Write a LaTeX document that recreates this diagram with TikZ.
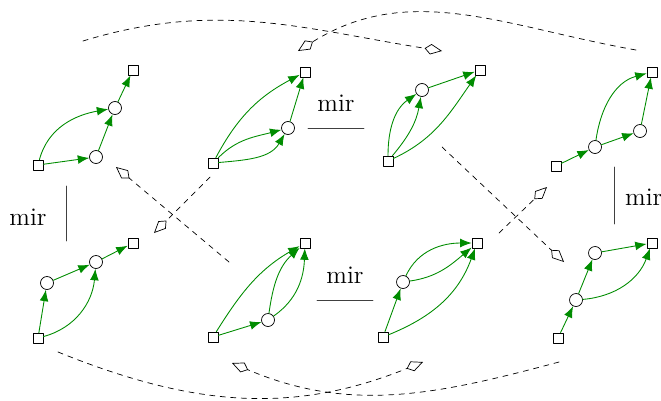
\documentclass[tikz,border=0pt]{standalone}
\usetikzlibrary{arrows.meta}

\begin{document}
\begin{tikzpicture}[x=0.02cm, y=0.02cm,
	>={Latex[length=6.5pt, width=5pt]}, line cap=round, line join=round,
	port/.style={draw, fill=white, rectangle, minimum size=5.7pt, inner sep=0pt},
	hole/.style={draw, fill=white, circle, minimum size=7.4pt, inner sep=0pt},
	wire/.style={->, green!55!black, line width=0.5pt},
	move/.style={dashed, -{Kite[open, length=10pt, width=6pt, inset=3.5pt]}},
	rule/.style={black!75, line width=0.5pt},
	lbl/.style={font=\Large, inner sep=1pt}]
	
	\useasboundingbox (0,0) rectangle (661,400);
	
	% top row
	\node [port] (g1s) at (38,235) {};
	\node [hole] (g1a) at (96,243) {};
	\node [hole] (g1b) at (115,292) {};
	\node [port] (g1t) at (133,330) {};
	\draw [wire] (g1s) -- (g1a);
	\draw [wire] (g1s) to[out=75, in=190] (g1b);
	\draw [wire] (g1a) -- (g1b);
	\draw [wire] (g1b) -- (g1t);
	
	\node [port] (g2s) at (213,237) {};
	\node [hole] (g2a) at (288,272) {};
	\node [port] (g2t) at (305,328) {};
	\draw [wire] (g2s) to[out=45, in=195] (g2a);
	\draw [wire] (g2s) to[out=5, in=240] (g2a);
	\draw [wire] (g2s) to[out=62, in=208] (g2t);
	\draw [wire] (g2a) -- (g2t);
	
	\node [port] (g3s) at (388,239) {};
	\node [hole] (g3a) at (422,310) {};
	\node [port] (g3t) at (480,330) {};
	\draw [wire] (g3s) to[out=90, in=215] (g3a);
	\draw [wire] (g3s) to[out=50, in=260] (g3a);
	\draw [wire] (g3s) to[out=25, in=235] (g3t);
	\draw [wire] (g3a) -- (g3t);
	
	\node [port] (g4s) at (556,234) {};
	\node [hole] (g4a) at (595,253) {};
	\node [hole] (g4b) at (640,269) {};
	\node [port] (g4t) at (652,328) {};
	\draw [wire] (g4s) -- (g4a);
	\draw [wire] (g4a) -- (g4b);
	\draw [wire] (g4b) -- (g4t);
	\draw [wire] (g4a) to[out=82, in=195] (g4t);
	
	% bottom row
	\node [port] (g5s) at (38,62) {};
	\node [hole] (g5a) at (47,117) {};
	\node [hole] (g5b) at (96,138) {};
	\node [port] (g5t) at (133,157) {};
	\draw [wire] (g5s) -- (g5a);
	\draw [wire] (g5a) -- (g5b);
	\draw [wire] (g5b) -- (g5t);
	\draw [wire] (g5s) to[out=15, in=265] (g5b);
	
	\node [port] (g6s) at (213,63) {};
	\node [hole] (g6a) at (268,80) {};
	\node [port] (g6t) at (305,157) {};
	\draw [wire] (g6s) -- (g6a);
	\draw [wire] (g6s) to[out=58, in=210] (g6t);
	\draw [wire] (g6a) to[out=82, in=222] (g6t);
	\draw [wire] (g6a) to[out=35, in=268] (g6t);
	
	\node [port] (g7s) at (383,63) {};
	\node [hole] (g7a) at (403,118) {};
	\node [port] (g7t) at (477,157) {};
	\draw [wire] (g7s) -- (g7a);
	\draw [wire] (g7a) to[out=65, in=180] (g7t);
	\draw [wire] (g7a) to[out=8, in=220] (g7t);
	\draw [wire] (g7s) to[out=22, in=250] (g7t);
	
	\node [port] (g8s) at (558,62) {};
	\node [hole] (g8a) at (576,100) {};
	\node [hole] (g8b) at (595,147) {};
	\node [port] (g8t) at (652,157) {};
	\draw [wire] (g8s) -- (g8a);
	\draw [wire] (g8a) -- (g8b);
	\draw [wire] (g8b) -- (g8t);
	\draw [wire] (g8a) to[out=5, in=250] (g8t);
	
	% mirror rules
	\coordinate (m1a) at (66,214);
	\coordinate (m1b) at (66,159);
	\draw [rule] (m1a) -- (m1b);
	\node [lbl] (m1) at (28,183) {mir};
	
	\coordinate (m2a) at (308,272);
	\coordinate (m2b) at (364,272);
	\draw [rule] (m2a) -- (m2b);
	\node [lbl] (m2) at (336,297) {mir};
	
	\coordinate (m3a) at (317,100);
	\coordinate (m3b) at (373,100);
	\draw [rule] (m3a) -- (m3b);
	\node [lbl] (m3) at (345,125) {mir};
	
	\coordinate (m4a) at (614,233);
	\coordinate (m4b) at (614,176);
	\draw [rule] (m4a) -- (m4b);
	\node [lbl, anchor=west] (m4) at (623,203) {mir};
	
	% dashed moves
	\coordinate (d1a) at (229,138);
	\coordinate (d1b) at (116,233);
	\coordinate (d2a) at (210,223);
	\coordinate (d2b) at (154,167);
	\coordinate (d3a) at (442,253);
	\coordinate (d3b) at (564,138);
	\coordinate (d4a) at (499,167);
	\coordinate (d4b) at (547,213);
	\draw [move] (d1a) -- (d1b);
	\draw [move] (d2a) -- (d2b);
	\draw [move] (d3a) -- (d3b);
	\draw [move] (d4a) -- (d4b);
	
	\coordinate (d5a) at (83,359);
	\coordinate (d5b) at (442,349);
	\coordinate (d6a) at (636,350);
	\coordinate (d6b) at (298,349);
	\draw [move] (d5a) to[out=17, in=171] (d5b);
	\draw [move] (d6a) to[out=170, in=32] (d6b);
	
	\coordinate (d7a) at (58,48);
	\coordinate (d7b) at (423,38);
	\coordinate (d8a) at (559,38);
	\coordinate (d8b) at (232,37);
	\draw [move] (d7a) to[out=-22, in=202] (d7b);
	\draw [move] (d8a) to[out=195, in=-23] (d8b);
	
\end{tikzpicture}
\end{document}
